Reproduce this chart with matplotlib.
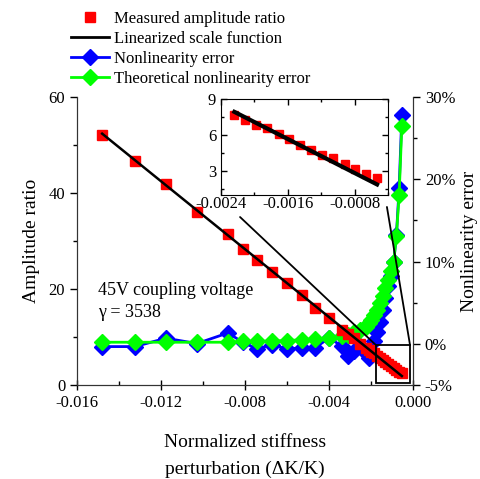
import matplotlib
matplotlib.use("Agg")
import matplotlib.pyplot as plt
from matplotlib.lines import Line2D
from matplotlib.patches import Rectangle, ConnectionPatch
from matplotlib.ticker import FixedLocator, MultipleLocator, FuncFormatter

plt.rcParams['font.family'] = ['Liberation Serif', 'DejaVu Serif']

# normalized stiffness perturbation
dk = [-0.0148, -0.01324, -0.01176, -0.01029, -0.00881, -0.00811, -0.00744,
      -0.00670, -0.00601, -0.00530, -0.00467, -0.00398, -0.00339, -0.00310,
      -0.00280, -0.00250, -0.00224, -0.00211, -0.00198, -0.00185, -0.00171,
      -0.00158, -0.00145, -0.00132, -0.00119, -0.00106, -0.00092, -0.00079,
      -0.00066, -0.00053]
# measured amplitude ratio
amp = [52.1, 46.7, 41.8, 36.1, 31.4, 28.4, 26.0, 23.6, 21.2, 18.75, 16.1, 14.0,
       11.5, 10.7, 9.7, 8.6, 7.70, 7.28, 6.80, 6.58, 6.04, 5.63, 5.20, 4.78,
       4.36, 4.05, 3.58, 3.20, 2.78, 2.44]
# nonlinearity error (%)
err_meas = [-0.33, -0.33, 0.69, 0.04, 1.33, 0.2, -0.6, -0.1, -0.6, -0.5, -0.48,
            0.73, -0.29, -1.5, -0.9, -0.3, -1.1, -1.7, -0.9, 0.3, 1.5, 2.7, 4.1,
            5.6, 7.0, 8.3, 9.9, 13.2, 18.9, 27.8]
err_theo = [0.2, 0.2, 0.2, 0.2, 0.2, 0.3, 0.3, 0.35, 0.4, 0.5, 0.6, 0.7, 0.9,
            1.1, 1.4, 1.7, 2.1, 2.5, 2.9, 3.5, 4.1, 5.0, 5.8, 6.8, 7.8, 8.8,
            10.0, 13.1, 18.1, 26.5]
gamma = 3538
n_inset = 16  # first point shown in the inset
line_x = [dk[0], dk[-1]]
line_y = [-gamma * v for v in line_x]
inset_line_x = [dk[n_inset], dk[-1]]
inset_line_y = [-gamma * v for v in inset_line_x]

fig = plt.figure(figsize=(4.81, 4.79), dpi=100)
ax = fig.add_axes([0.160, 0.1962, 0.6986, 0.6013])
ax2 = ax.twinx()

ax2.plot(dk, err_meas, color='#0000ff', lw=2, marker='D', ms=8, zorder=2)
ax2.plot(dk, err_theo, color='#00ff00', lw=2, marker='D', ms=8, zorder=3)
ax.plot(dk, amp, ls='none', marker='s', color='#ff0000', ms=6.5, zorder=4)
ax.plot(line_x, line_y, color='black', lw=1.8, zorder=5)
ax.set_zorder(ax2.get_zorder() + 1)
ax.patch.set_visible(False)

ax.set_xlim(-0.016, 0.0)
ax.set_ylim(0, 60)
ax2.set_ylim(-5, 30)
ax.xaxis.set_major_locator(MultipleLocator(0.004))
ax.xaxis.set_minor_locator(MultipleLocator(0.002))
ax.xaxis.set_major_formatter(FuncFormatter(lambda v, p: '%.3f' % v if abs(v) > 1e-9 else '0.000'))
ax.yaxis.set_major_locator(MultipleLocator(20))
ax.yaxis.set_minor_locator(MultipleLocator(10))
ax2.yaxis.set_major_locator(FixedLocator([-5, 0, 10, 20, 30]))
ax2.yaxis.set_minor_locator(FixedLocator([5, 15, 25]))
ax2.yaxis.set_major_formatter(FuncFormatter(lambda v, p: '%d%%' % v))

for a in (ax, ax2):
    a.spines['top'].set_visible(False)
    a.tick_params(which='both', labelsize=12, width=1)
    a.tick_params(which='major', length=5)
    a.tick_params(which='minor', length=3)
    for s in a.spines.values():
        s.set_color('#333333')
ax.tick_params(axis='x', which='major', direction='inout', length=7)
ax.tick_params(axis='x', which='minor', direction='in')

ax.set_xlabel('Normalized stiffness\nperturbation (ΔK/K)', fontsize=14, linespacing=1.7, labelpad=17)
ax.set_ylabel('Amplitude ratio', fontsize=14, labelpad=6)
ax2.set_ylabel('Nonlinearity error', fontsize=14, labelpad=4)

ax.text(0.062, 0.29, '45V coupling voltage\nγ = %d' % gamma, transform=ax.transAxes,
        fontsize=13, linespacing=1.35, va='center', ha='left')

# zoom box
x0, x1, y0, y1 = -0.00176, -0.00014, 0.4, 8.3
ax.add_patch(Rectangle((x0, y0), x1 - x0, y1 - y0, fill=False, ec='black', lw=1.3, zorder=6))

# inset
axin = fig.add_axes([0.4595, 0.593, 0.347, 0.2004])
axin.plot(dk[n_inset:], amp[n_inset:], ls='none', marker='s', color='#ff0000', ms=6)
axin.plot(inset_line_x, inset_line_y, color='black', lw=3)
axin.set_xlim(-0.0024, -0.0004)
axin.set_ylim(1, 9)
axin.xaxis.set_major_locator(MultipleLocator(0.0008))
axin.xaxis.set_minor_locator(MultipleLocator(0.0004))
axin.xaxis.set_major_formatter(FuncFormatter(lambda v, p: '%.4f' % v))
axin.yaxis.set_major_locator(MultipleLocator(3))
axin.yaxis.set_minor_locator(MultipleLocator(1.5))
axin.tick_params(which='both', direction='in', top=True, right=True, labelsize=12, width=1)
axin.tick_params(which='major', length=4)
axin.tick_params(which='minor', length=2.5)
axin.tick_params(axis='x', pad=1)

for xa, ya, xb, yb in [(0.114, -0.23, x0, y1), (0.994, -0.125, x1, y1)]:
    con = ConnectionPatch(xyA=(xa, ya), coordsA=axin.transAxes, xyB=(xb, yb), coordsB=ax.transData,
                          color='black', lw=1.3)
    fig.add_artist(con)

handles = [
    Line2D([], [], ls='none', marker='s', color='#ff0000', ms=6.5),
    Line2D([], [], color='black', lw=2),
    Line2D([], [], color='#0000ff', lw=2, marker='D', ms=8),
    Line2D([], [], color='#00ff00', lw=2, marker='D', ms=8),
]
labels = ['Measured amplitude ratio', 'Linearized scale function',
          'Nonlinearity error', 'Theoretical nonlinearity error']
fig.legend(handles, labels, loc='upper left', bbox_to_anchor=(0.125, 1.0), frameon=False,
           fontsize=12, handlelength=2.3, handletextpad=0.3, labelspacing=0.25, borderpad=0.15)

fig.savefig('out.png', dpi=100)
